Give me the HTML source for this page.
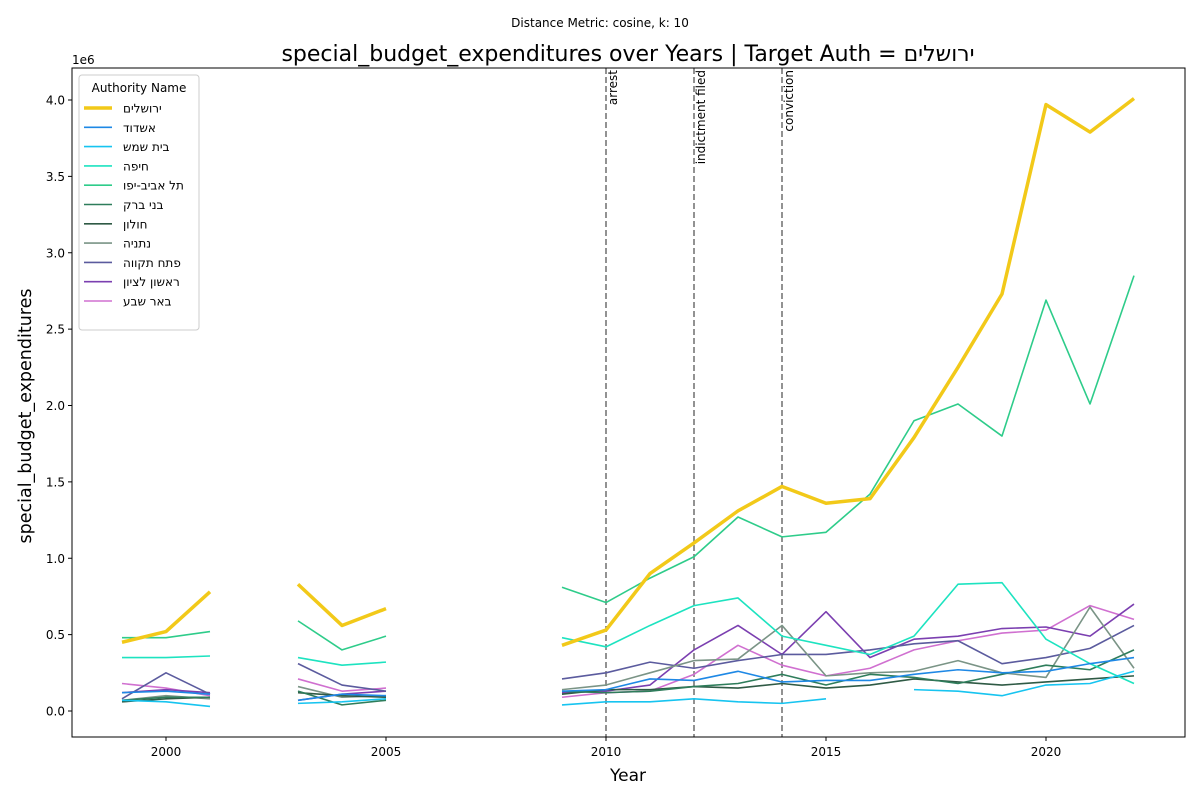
<!DOCTYPE html>
<html><head><meta charset="utf-8"><style>
body{margin:0;background:#fff;}
svg text{font-family:"DejaVu Sans","Liberation Sans",sans-serif;}
</style></head><body>
<svg id="chart" width="1200" height="800" xmlns="http://www.w3.org/2000/svg">
<text x="600" y="27" font-size="12" text-anchor="middle">Distance Metric: cosine, k: 10</text>
<text x="628" y="61" font-size="22" text-anchor="middle">special_budget_expenditures over Years | Target Auth = ירושלים</text>
<text x="72" y="64" font-size="12">1e6</text>
<text x="628" y="781" font-size="17" text-anchor="middle">Year</text>
<text transform="translate(31,416) rotate(-90)" font-size="17.5" text-anchor="middle">special_budget_expenditures</text>
<g id="marks"></g>
<rect x="72" y="68" width="1113" height="669" fill="none" stroke="#000" stroke-width="1"/>
</svg>
<script>
const years=[1999,2000,2001,2002,2003,2004,2005,2006,2007,2008,2009,2010,2011,2012,2013,2014,2015,2016,2017,2018,2019,2020,2021,2022];
const N=null;
const names=["ירושלים","אשדוד","בית שמש","חיפה","תל אביב-יפו","בני ברק","חולון","נתניה","פתח תקווה","ראשון לציון","באר שבע"];
const colors=["#f2c919","#1e88e5","#17c4f0","#1de3c0","#2ecc8a","#2e7d5b","#2f5a45","#7a9486","#5b5b9e","#7b3fb0","#d070d0"];
const s0=[0.45,0.52,0.78,N,0.83,0.56,0.67,N,N,N,0.43,0.53,0.90,1.10,1.31,1.47,1.36,1.39,1.79,2.25,2.73,3.97,3.79,4.01];
const s1=[0.12,0.13,0.11,N,0.07,0.11,0.10,N,N,N,0.13,0.14,0.21,0.20,0.26,0.19,0.20,0.20,0.24,0.27,0.25,0.26,0.31,0.35];
const s2=[0.07,0.06,0.03,N,0.05,0.06,0.08,N,N,N,0.04,0.06,0.06,0.08,0.06,0.05,0.08,N,0.14,0.13,0.10,0.17,0.18,0.26];
const s3=[0.35,0.35,0.36,N,0.35,0.30,0.32,N,N,N,0.48,0.42,0.56,0.69,0.74,0.49,0.43,0.37,0.49,0.83,0.84,0.47,0.31,0.18];
const s4=[0.48,0.48,0.52,N,0.59,0.40,0.49,N,N,N,0.81,0.71,0.87,1.01,1.27,1.14,1.17,1.42,1.90,2.01,1.80,2.69,2.01,2.85];
const s5=[0.07,0.09,0.09,N,0.13,0.04,0.07,N,N,N,0.13,0.12,0.13,0.16,0.18,0.24,0.17,0.24,0.22,0.18,0.24,0.30,0.27,0.40];
const s6=[0.06,0.08,0.09,N,0.12,0.10,0.09,N,N,N,0.11,0.14,0.14,0.16,0.15,0.18,0.15,0.17,0.21,0.19,0.17,0.19,0.21,0.23];
const s7=[0.07,0.10,0.08,N,0.16,0.09,0.10,N,N,N,0.14,0.17,0.25,0.33,0.34,0.56,0.23,0.25,0.26,0.33,0.25,0.22,0.68,0.28];
const s8=[0.08,0.25,0.11,N,0.31,0.17,0.13,N,N,N,0.21,0.25,0.32,0.28,0.33,0.37,0.37,0.40,0.44,0.46,0.31,0.35,0.41,0.56];
const s9=[0.12,0.14,0.12,N,0.07,0.11,0.13,N,N,N,0.12,0.13,0.17,0.40,0.56,0.37,0.65,0.35,0.47,0.49,0.54,0.55,0.49,0.70];
const s10=[0.18,0.15,0.10,N,0.21,0.13,0.15,N,N,N,0.09,0.12,0.13,0.24,0.43,0.30,0.23,0.28,0.40,0.46,0.51,0.53,0.69,0.60];
const series=[s0,s1,s2,s3,s4,s5,s6,s7,s8,s9,s10];
const xTicks=[2000,2005,2010,2015,2020];
const yTicks=[0,0.5,1.0,1.5,2.0,2.5,3.0,3.5,4.0];
const eventYears=[2010,2012,2014];
const eventLabels=["arrest","indictment filed","conviction"];

const NS="http://www.w3.org/2000/svg";
const g=document.getElementById('marks');
const X=y=>166+(y-2000)*44;
const Y=v=>711-v*152.75;
function el(t,a){const e=document.createElementNS(NS,t);for(const k in a)e.setAttribute(k,a[k]);g.appendChild(e);return e;}

xTicks.forEach(t=>{
  const l=el('line',{x1:X(t),x2:X(t),y1:737,y2:741,stroke:'#000'});
  
  
  const tx=el('text',{x:X(t),y:756,'font-size':12,'text-anchor':'middle'});tx.textContent=t;
  
  
});
yTicks.forEach(t=>{
  const l=el('line',{x1:68,x2:72,y1:Y(t),y2:Y(t),stroke:'#000'});
  
  
  const tx=el('text',{x:65,y:Y(t)+4.5,'font-size':12,'text-anchor':'end'});tx.textContent=t.toFixed(1);
  
  
});
eventYears.forEach((yr,i)=>{
  const l=el('line',{x1:X(yr),x2:X(yr),y1:68,y2:737,stroke:'#777','stroke-width':1.6,'stroke-dasharray':'6,3'});
  
  
  const tx=el('text',{transform:`translate(${X(yr)+11},70) rotate(-90)`,'font-size':12,'text-anchor':'end'});tx.textContent=eventLabels[i];
  
  
});
function segs(s){const out=[];let cur=[];s.forEach((v,i)=>{if(v===null){if(cur.length)out.push(cur);cur=[];}else cur.push(X(years[i])+','+Y(v));});if(cur.length)out.push(cur);return out;}
for(let k=series.length-1;k>=0;k--){
  segs(series[k]).forEach(p=>{
    const pl=el('polyline',{points:p.join(' '),fill:'none',stroke:colors[k],'stroke-width':k===0?3.5:1.6,'stroke-linejoin':'round'});
    
    
  });
}
const lg=el('rect',{x:79,y:75,width:120,height:255,fill:'#fff','fill-opacity':0.85,stroke:'#ccc',rx:3});


const lt=el('text',{x:139,y:92,'font-size':12,'text-anchor':'middle'});lt.textContent='Authority Name';


names.forEach((n,i)=>{
  const y=108+i*19.3;
  const ln=el('line',{x1:84,x2:112,y1:y,y2:y,stroke:colors[i],'stroke-width':i===0?3.5:1.6});
  
  
  const tx=el('text',{x:123,y:y+4.5,'font-size':12});tx.textContent=n;
  
  
});
</script>
</body></html>
